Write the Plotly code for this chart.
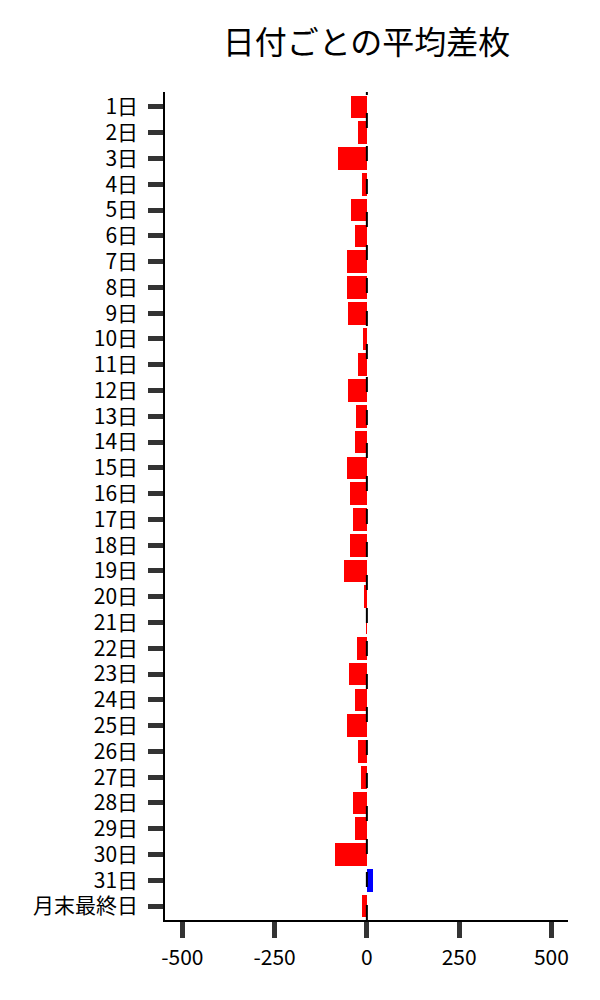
import plotly.graph_objects as go

days = [f"{i}日" for i in range(1, 32)] + ["月末最終日"]
avg_diff = [-42, -23, -78, -13, -42, -32, -53, -53, -50, -10,
            -23, -50, -29, -32, -53, -45, -37, -45, -61, -7,
            -2, -26, -48, -32, -53, -23, -15, -37, -32, -86,
            16, -13]
colors = ["blue" if v > 0 else "red" for v in avg_diff]
x_ticks = [-500, -250, 0, 250, 500]
x_tick_text = ["-500", "-250", "0", "250", "500"]

font = "Noto Sans CJK JP"

fig = go.Figure()
fig.add_trace(go.Bar(
    x=avg_diff, y=days, orientation="h",
    marker=dict(color=colors, line=dict(width=0)),
    width=0.88, showlegend=False,
))
fig.add_shape(type="line", x0=0, x1=0, y0=0, y1=1, xref="x", yref="y domain",
              line=dict(color="black", width=2, dash="15px,18px"), layer="above")

fig.update_layout(
    width=600, height=1000,
    margin=dict(l=157, r=40, t=84, b=88),
    paper_bgcolor="white", plot_bgcolor="white",
    font=dict(family=font, size=21, color="black"),
    title=dict(text="日付ごとの平均差枚", x=0.5, xref="paper", xanchor="center",
               y=1 - 35 / 1000, yanchor="middle", font=dict(size=32, family=font)),
    bargap=0,
)
fig.update_xaxes(
    range=[-547, 545], tickvals=x_ticks, ticktext=x_tick_text,
    showgrid=False, zeroline=False,
    showline=True, linecolor="black", linewidth=1.5,
    ticks="outside", ticklen=16, tickwidth=5, tickcolor="#333333",
    ticklabelstandoff=2,
)
fig.update_yaxes(
    categoryorder="array", categoryarray=days,
    range=[31.54, -0.58],
    showgrid=False, zeroline=False,
    showline=True, linecolor="black", linewidth=1.5,
    ticks="outside", ticklen=15, tickwidth=5, tickcolor="#333333",
    ticklabelstandoff=6,
)

fig.write_html("out.html")
